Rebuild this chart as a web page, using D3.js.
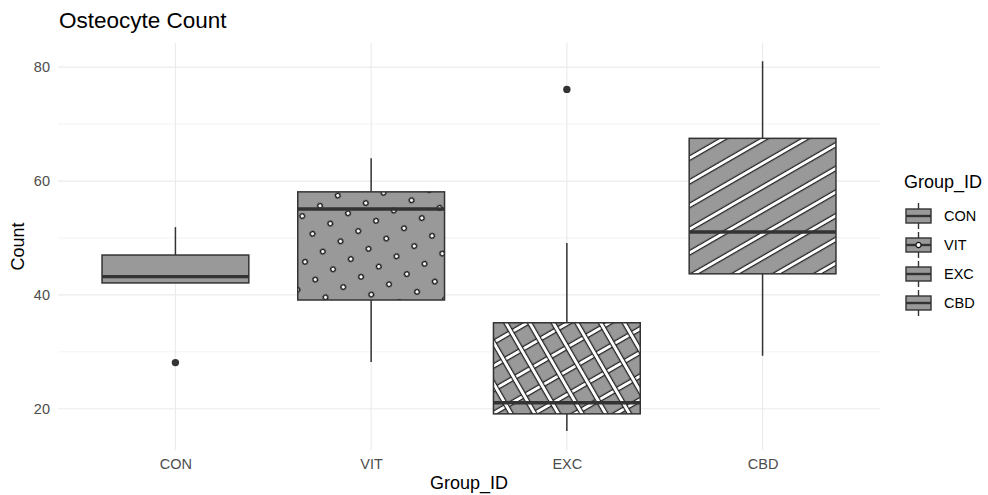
<!DOCTYPE html>
<html>
<head>
<meta charset="utf-8">
<script src="https://cdn.jsdelivr.net/npm/d3@7"></script>
<style>
  body { margin: 0; background: #fff; }
  text { font-family: "Liberation Sans", Arial, sans-serif; }
</style>
</head>
<body>
<svg id="chart" width="988" height="495"></svg>
<script>
// box statistics
const groups = ["CON", "VIT", "EXC", "CBD"];
const lowerWhisker = [42.1, 28.2, 16.1, 29.3];
const lowerHinge = [42.1, 39.1, 19.1, 43.7];
const medians = [43.2, 55.1, 21.05, 51.05];
const upperHinge = [47.0, 58.1, 35.1, 67.5];
const upperWhisker = [51.9, 64.0, 49.1, 81.05];
const outlierGroups = ["CON", "EXC"];
const outlierValues = [28.1, 76.1];
const patternTypes = ["none", "circle", "crosshatch", "stripe"];
const majorTicks = [20, 40, 60, 80];
const minorTicks = [30, 50, 70];

const svg = d3.select("#chart");
const pLeft = 58, pRight = 880, pTop = 43, pBottom = 450;
const boxFill = "#999999", ink = "#333333";

const x = d3.scalePoint().domain(groups).range([pLeft, pRight]).padding(0.6);
const y = d3.scaleLinear().domain([12.75, 84.25]).range([pBottom, pTop]);
const boxW = x.step() * 0.75;

// patterns
const defs = svg.append("defs");
const sp = 20.5, sw = 4.2, edge = 1.1;

function stripeRect(p, vertical) {
  const r = p.append("rect").attr("fill", "#fff").attr("stroke", "#111").attr("stroke-width", edge);
  if (vertical) r.attr("y", -3).attr("x", sp / 2 - sw / 2).attr("height", sp + 6).attr("width", sw);
  else r.attr("x", -3).attr("y", sp / 2 - sw / 2).attr("width", sp + 6).attr("height", sw);
}
function makePattern(id) {
  return defs.append("pattern").attr("id", id)
    .attr("patternUnits", "userSpaceOnUse").attr("width", sp).attr("height", sp)
    .attr("patternTransform", "rotate(-30)");
}
stripeRect(makePattern("pat-stripe"), false);
const pCross = makePattern("pat-crosshatch");
stripeRect(pCross, false);
stripeRect(pCross, true);
makePattern("pat-circle").append("circle").attr("cx", sp / 2).attr("cy", sp / 2).attr("r", 2.3)
  .attr("fill", "#fff").attr("stroke", "#111").attr("stroke-width", 1.3);

// grid
const grid = svg.append("g");
grid.selectAll(".minor").data(minorTicks).enter().append("line")
  .attr("x1", pLeft).attr("x2", pRight).attr("y1", d => y(d)).attr("y2", d => y(d))
  .attr("stroke", "#ebebeb").attr("stroke-width", 0.6);
grid.selectAll(".major").data(majorTicks).enter().append("line")
  .attr("x1", pLeft).attr("x2", pRight).attr("y1", d => y(d)).attr("y2", d => y(d))
  .attr("stroke", "#ebebeb").attr("stroke-width", 1.2);
grid.selectAll(".vmajor").data(groups).enter().append("line")
  .attr("y1", pTop).attr("y2", pBottom).attr("x1", d => x(d)).attr("x2", d => x(d))
  .attr("stroke", "#ebebeb").attr("stroke-width", 1.2);

// boxes
const boxes = groups.map((g, i) => ({
  g, lo: lowerWhisker[i], q1: lowerHinge[i], med: medians[i], q3: upperHinge[i], hi: upperWhisker[i], pat: patternTypes[i]
}));
const bg = svg.append("g").selectAll("g").data(boxes).enter().append("g");
bg.append("line").attr("x1", d => x(d.g)).attr("x2", d => x(d.g))
  .attr("y1", d => y(d.hi)).attr("y2", d => y(d.q3)).attr("stroke", ink).attr("stroke-width", 1.5);
bg.append("line").attr("x1", d => x(d.g)).attr("x2", d => x(d.g))
  .attr("y1", d => y(d.q1)).attr("y2", d => y(d.lo)).attr("stroke", ink).attr("stroke-width", 1.5);
bg.append("rect").attr("x", d => x(d.g) - boxW / 2).attr("width", boxW)
  .attr("y", d => y(d.q3)).attr("height", d => y(d.q1) - y(d.q3)).attr("fill", boxFill);
bg.filter(d => d.pat !== "none").append("rect").attr("x", d => x(d.g) - boxW / 2).attr("width", boxW)
  .attr("y", d => y(d.q3)).attr("height", d => y(d.q1) - y(d.q3)).attr("fill", d => `url(#pat-${d.pat})`);
bg.append("rect").attr("x", d => x(d.g) - boxW / 2).attr("width", boxW)
  .attr("y", d => y(d.q3)).attr("height", d => y(d.q1) - y(d.q3))
  .attr("fill", "none").attr("stroke", ink).attr("stroke-width", 1.5);
bg.append("line").attr("x1", d => x(d.g) - boxW / 2).attr("x2", d => x(d.g) + boxW / 2)
  .attr("y1", d => y(d.med)).attr("y2", d => y(d.med)).attr("stroke", ink).attr("stroke-width", 3.4);

// outliers
svg.append("g").selectAll("circle").data(outlierValues).enter().append("circle")
  .attr("cx", (d, i) => x(outlierGroups[i])).attr("cy", d => y(d)).attr("r", 3.7).attr("fill", ink);

// axes
const yAxis = svg.append("g").attr("transform", `translate(${pLeft},0)`)
  .call(d3.axisLeft(y).tickValues(majorTicks).tickSize(0).tickPadding(8));
const xAxis = svg.append("g").attr("transform", `translate(0,${pBottom})`)
  .call(d3.axisBottom(x).tickSize(0).tickPadding(9));
[yAxis, xAxis].forEach(a => {
  a.select(".domain").remove();
  a.selectAll("text").attr("font-size", 14.5).attr("fill", "#4d4d4d")
    .attr("font-family", "Liberation Sans, Arial, sans-serif");
});

// titles
svg.append("text").attr("x", pLeft + 1).attr("y", 28).attr("font-size", 22.5).attr("fill", "#000")
  .text("Osteocyte Count");
svg.append("text").attr("x", (pLeft + pRight) / 2).attr("y", 489).attr("text-anchor", "middle")
  .attr("font-size", 18).attr("fill", "#000").text("Group_ID");
svg.append("text").attr("transform", `translate(24,${(pTop + pBottom) / 2}) rotate(-90)`)
  .attr("text-anchor", "middle").attr("font-size", 18).attr("fill", "#000").text("Count");

// legend
const lg = svg.append("g");
lg.append("text").attr("x", 904).attr("y", 188).attr("font-size", 18).attr("fill", "#000").text("Group_ID");
const keyX = 918.5, keyW = 25, keyH = 28;
const keys = lg.selectAll(".key").data(boxes).enter().append("g")
  .attr("transform", (d, i) => `translate(${keyX},${216 + i * 29})`);
keys.append("line").attr("y1", -keyH / 2 + 1).attr("y2", keyH / 2 - 1).attr("stroke", ink).attr("stroke-width", 1.4);
keys.append("rect").attr("x", -keyW / 2).attr("y", -7).attr("width", keyW).attr("height", 14)
  .attr("fill", boxFill).attr("stroke", ink).attr("stroke-width", 1.4);
keys.append("line").attr("x1", -keyW / 2).attr("x2", keyW / 2).attr("stroke", ink).attr("stroke-width", 2.4);
keys.filter(d => d.pat === "circle").append("circle").attr("r", 2.6)
  .attr("fill", "#fff").attr("stroke", "#111").attr("stroke-width", 1.2);
keys.append("text").attr("x", 944 - keyX).attr("y", 5).attr("font-size", 14.5).attr("fill", "#000")
  .text(d => d.g);
</script>
</body>
</html>
